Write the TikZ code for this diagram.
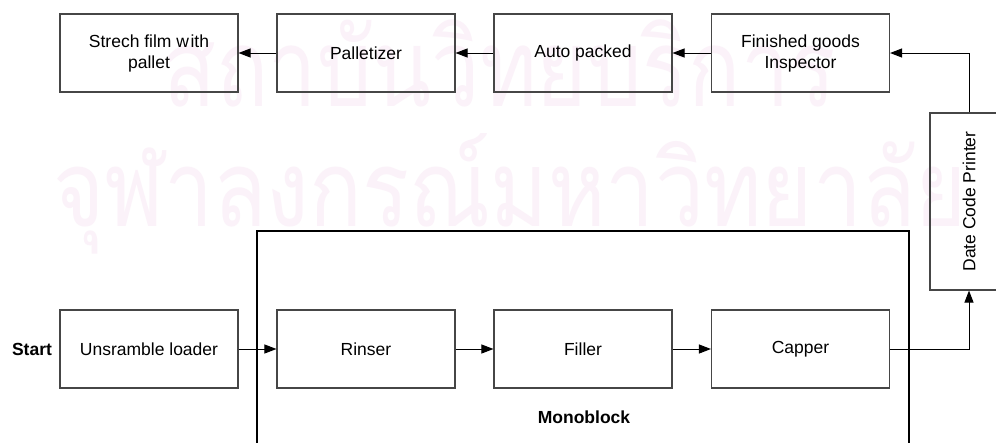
\documentclass[tikz,border=0pt]{standalone}
\usepackage{fontspec}
\setmainfont{Liberation Sans}
\newfontfamily\thaifont[Script=Thai,FakeStretch=0.8]{Loma}
\newfontfamily\thaifontw[Script=Thai,FakeStretch=0.825]{Loma}
\usetikzlibrary{arrows.meta}
\definecolor{wm}{RGB}{251,242,249}
\definecolor{boxline}{RGB}{70,70,70}
\tikzset{
  stage/.style={draw=boxline, line width=1.1pt, minimum width=178pt, minimum height=78pt,
    inner sep=0pt, align=center, font=\fontsize{17.5}{21}\selectfont},
  arr/.style={draw=black, line width=1pt, -{Triangle[length=12pt,width=9pt]}},
  lbl/.style={font=\fontsize{17.5}{21}\selectfont\bfseries, inner sep=0pt},
  mono/.style={draw=black, line width=2.4pt},
  wmark/.style={text=wm, inner sep=0pt, anchor=base}
}
\begin{document}
\begin{tikzpicture}[x=1pt,y=-1pt]
\useasboundingbox (0,0) rectangle (996,442);
\clip (0,0) rectangle (996,442);
\fill[white] (0,0) rectangle (996,442);
% watermark
\node[wmark, font=\thaifont\fontsize{108}{108}\selectfont] (wm1) at (500,106) {สถาบันวิทยบริการ};
\node[wmark, font=\thaifontw\fontsize{106}{106}\selectfont] (wm2) at (510,226) {จุฬาลงกรณ์มหาวิทยาลัย};
% monoblock frame
\draw[mono] (257,231) rectangle (909,470);
\node[lbl] (monolbl) at (584,417) {Monoblock};
% top row
\node[stage] (strech) at (149,53) {Strech film w\kern1.5pt ith\\pallet};
\node[stage] (pall) at (366,53) {Palletizer};
\node[stage] (auto) at (583,53) {Auto packed};
\node[stage] (fin) at (800.5,53) {Finished goods\\Inspector};
% date code printer
\node[draw=boxline, line width=1.1pt, minimum width=78pt, minimum height=177pt, inner sep=0pt] (dcp) at (969,201.5) {};
\node[rotate=90, font=\fontsize{17.5}{21}\selectfont, inner sep=0pt] (dcptext) at (dcp.center) {Date Code Printer};
% bottom row
\node[lbl] (start) at (32,349) {Start};
\node[stage] (unsr) at (149,349) {Unsramble loader};
\node[stage] (rinser) at (366,349) {Rinser};
\node[stage] (filler) at (583,349) {Filler};
\node[stage] (capper) at (800.5,349) {Capper};
% connectors
\draw[arr] (fin) -- (auto);
\draw[arr] (auto) -- (pall);
\draw[arr] (pall) -- (strech);
\draw[arr] (dcp.north) |- (fin.east);
\draw[arr] (unsr) -- (rinser);
\draw[arr] (rinser) -- (filler);
\draw[arr] (filler) -- (capper);
\draw[arr] (capper.east) -| (dcp.south);
\end{tikzpicture}
\end{document}
